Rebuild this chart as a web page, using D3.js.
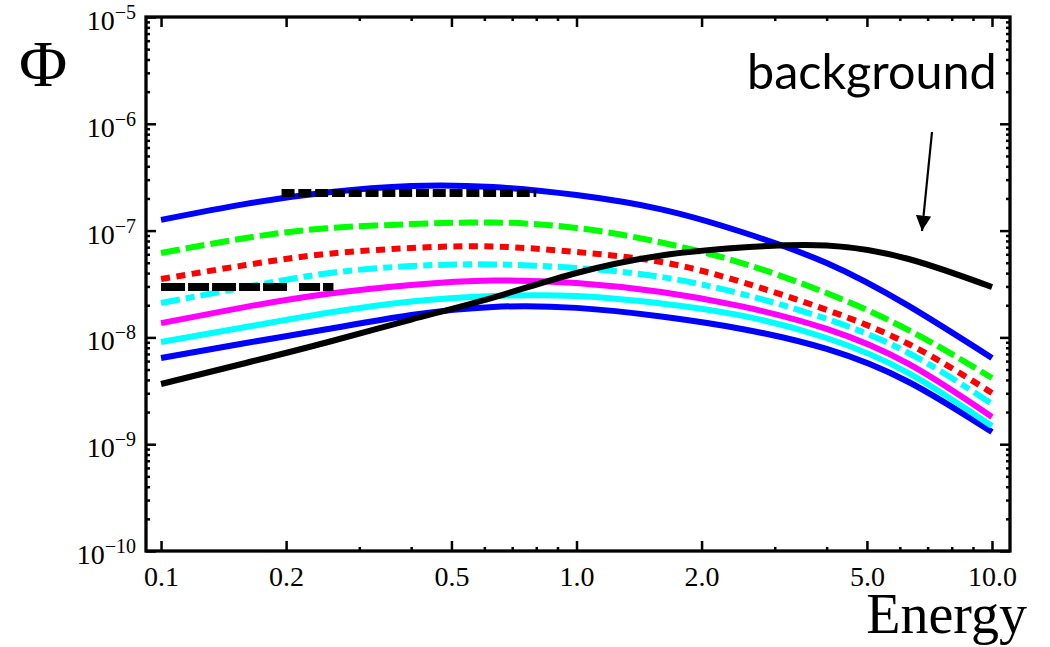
<!DOCTYPE html>
<html>
<head>
<meta charset="utf-8">
<script src="https://cdn.jsdelivr.net/npm/d3@7"></script>
<style>
  body { margin: 0; background: #fff; }
  svg { display: block; }
  .tick text { font-family: "Liberation Serif", "DejaVu Serif", serif; }
</style>
</head>
<body>
<svg width="1050" height="647"></svg>
<script>
// energies where the curves were read off (roughly even in log E)
const energy = [0.1, 0.16, 0.25, 0.4, 0.63, 1, 1.6, 2.5, 4, 6.3, 10];

const blueTop    = [1.26e-7, 1.78e-7, 2.27e-7, 2.62e-7, 2.56e-7, 2.15e-7, 1.58e-7, 9.70e-8, 4.97e-8, 1.97e-8, 6.41e-9];
const greenDash  = [6.17e-8, 8.53e-8, 1.05e-7, 1.15e-7, 1.19e-7, 1.06e-7, 7.74e-8, 4.97e-8, 2.60e-8, 1.17e-8, 4.17e-9];
const redDot     = [3.52e-8, 4.76e-8, 6.04e-8, 6.87e-8, 7.10e-8, 6.30e-8, 5.08e-8, 3.30e-8, 1.81e-8, 8.67e-9, 3.02e-9];
const cyanDD     = [2.10e-8, 2.96e-8, 3.97e-8, 4.66e-8, 4.82e-8, 4.47e-8, 3.68e-8, 2.55e-8, 1.49e-8, 7.14e-9, 2.38e-9];
const magenta    = [1.36e-8, 1.93e-8, 2.55e-8, 3.10e-8, 3.41e-8, 3.23e-8, 2.66e-8, 1.95e-8, 1.20e-8, 5.64e-9, 1.80e-9];
const cyanSolid  = [9.06e-9, 1.25e-8, 1.69e-8, 2.17e-8, 2.44e-8, 2.44e-8, 2.08e-8, 1.60e-8, 9.87e-9, 4.64e-9, 1.48e-9];
const blueLow    = [6.41e-9, 8.86e-9, 1.19e-8, 1.62e-8, 1.93e-8, 1.89e-8, 1.57e-8, 1.20e-8, 7.79e-9, 3.82e-9, 1.30e-9];
const background = [3.66e-9, 5.76e-9, 8.96e-9, 1.47e-8, 2.36e-8, 4.01e-8, 5.85e-8, 6.95e-8, 7.25e-8, 5.42e-8, 2.96e-8];

// flat black dashed limits: [E start, E end, value]
const limitUpper = [0.195, 0.8, 2.25e-7];
const limitLower = [0.1, 0.26, 2.97e-8];

const xMajor = [0.1, 0.2, 0.5, 1, 2, 5, 10];
const xMajorLabels = ["0.1", "0.2", "0.5", "1.0", "2.0", "5.0", "10.0"];
const xMinor = [0.3, 0.4, 0.6, 0.7, 0.8, 0.9, 3, 4, 6, 7, 8, 9];
const yExponents = [-5, -6, -7, -8, -9, -10];

const svg = d3.select('svg');
const plotLeft = 146, plotRight = 1010, plotTop = 17, plotBottom = 551;

const x = d3.scaleLog().domain([0.092, 11.05]).range([plotLeft, plotRight]);
const y = d3.scaleLog().domain([1e-10, 1e-5]).range([plotBottom, plotTop]);

// y minor ticks: 2..9 in each decade
const yMinor = [];
yExponents.slice(1).forEach(e => {
    for (let k = 2; k <= 9; k++) yMinor.push(k * Math.pow(10, e));
});
const yMajor = yExponents.map(e => Math.pow(10, e));

function tickAxis(axisFn, scale, values, size, pos) {
    const g = svg.append('g').attr('transform', pos);
    g.call(axisFn(scale).tickValues(values).tickSize(size).tickFormat(''));
    g.select('.domain').remove();
    g.selectAll('.tick line').attr('stroke', '#000').attr('stroke-width', 2.5);
    return g;
}

// inward ticks on all four sides
tickAxis(d3.axisBottom, x, xMinor, -4, `translate(0,${plotBottom})`);
tickAxis(d3.axisTop, x, xMinor, -4, `translate(0,${plotTop})`);
tickAxis(d3.axisTop, x, xMajor, -10, `translate(0,${plotTop})`);
tickAxis(d3.axisLeft, y, yMinor, -4, `translate(${plotLeft},0)`);
tickAxis(d3.axisLeft, y, yMajor, -10, `translate(${plotLeft},0)`);
tickAxis(d3.axisRight, y, yMinor, -4, `translate(${plotRight},0)`);
tickAxis(d3.axisRight, y, yMajor, -10, `translate(${plotRight},0)`);

const xAxis = svg.append('g').attr('transform', `translate(0,${plotBottom})`)
    .call(d3.axisBottom(x).tickValues(xMajor).tickSize(-10).tickPadding(15)
        .tickFormat((d, i) => xMajorLabels[i]));
xAxis.select('.domain').remove();
xAxis.selectAll('.tick line').attr('stroke', '#000').attr('stroke-width', 2.5);
xAxis.selectAll('.tick text').attr('font-size', 28).attr('fill', '#000');

// y labels 10^n
const yLab = svg.append('g');
yExponents.forEach(e => {
    const t = yLab.append('text')
        .attr('x', 136).attr('y', y(Math.pow(10, e)) + 13)
        .attr('text-anchor', 'end')
        .attr('font-family', '"Liberation Serif", serif')
        .attr('font-size', 28);
    t.append('tspan').text('10');
    t.append('tspan').attr('dy', -11).attr('font-size', 20).text('\u2212' + Math.abs(e));
});

// curves
const line = d3.line()
    .x((d, i) => x(energy[i]))
    .y(d => y(d))
    .curve(d3.curveNatural);

const series = [
    { v: blueLow, color: '#0000ff', dash: null },
    { v: cyanSolid, color: '#00ffff', dash: null },
    { v: magenta, color: '#ff00ff', dash: null },
    { v: cyanDD, color: '#00ffff', dash: '19 6 9 6' },
    { v: redDot, color: '#ff0000', dash: '9 6.5' },
    { v: greenDash, color: '#00ff00', dash: '19 6' },
    { v: blueTop, color: '#0000ff', dash: null },
    { v: background, color: '#000000', dash: null }
];

svg.append('g').selectAll('path')
    .data(series)
    .join('path')
    .attr('d', d => line(d.v))
    .attr('fill', 'none')
    .attr('stroke', d => d.color)
    .attr('stroke-width', 6)
    .attr('stroke-dasharray', d => d.dash);

// black dashed limits
svg.append('line')
    .attr('x1', x(limitUpper[0])).attr('x2', x(limitUpper[1]))
    .attr('y1', y(limitUpper[2])).attr('y2', y(limitUpper[2]))
    .attr('stroke', '#000').attr('stroke-width', 8)
    .attr('stroke-dasharray', '13 3.8');
svg.append('line')
    .attr('x1', x(limitLower[0])).attr('x2', x(limitLower[1]))
    .attr('y1', y(limitLower[2])).attr('y2', y(limitLower[2]))
    .attr('stroke', '#000').attr('stroke-width', 8)
    .attr('stroke-dasharray', '24 3 21 3 24 3 21 3 24 12 21 3 14 100');

// frame
svg.append('rect')
    .attr('x', plotLeft).attr('y', plotTop)
    .attr('width', plotRight - plotLeft).attr('height', plotBottom - plotTop)
    .attr('fill', 'none').attr('stroke', '#000').attr('stroke-width', 3.3);

// axis titles
svg.append('text')
    .attr('x', 19).attr('y', 86)
    .attr('font-family', '"Liberation Serif", serif')
    .attr('font-size', 66)
    .text('\u03A6');
svg.append('text')
    .attr('x', 1027).attr('y', 633)
    .attr('text-anchor', 'end')
    .attr('font-family', '"Liberation Serif", serif')
    .attr('font-size', 56)
    .text('Energy');

// annotation
svg.append('text')
    .attr('x', 747).attr('y', 89)
    .attr('font-family', 'Lato, "Open Sans", sans-serif')
    .attr('font-size', 48.5)
    .text('background');

svg.append('defs').append('marker')
    .attr('id', 'head').attr('viewBox', '0 0 10 10')
    .attr('refX', 10).attr('refY', 5)
    .attr('markerWidth', 7).attr('markerHeight', 7)
    .attr('markerUnits', 'strokeWidth')
    .attr('orient', 'auto')
    .append('path').attr('d', 'M0,0 L10,5 L0,10 z').attr('fill', '#000');

svg.append('line')
    .attr('x1', 932).attr('y1', 132)
    .attr('x2', 922).attr('y2', 231)
    .attr('stroke', '#000').attr('stroke-width', 2.2)
    .attr('marker-end', 'url(#head)');
</script>
</body>
</html>
